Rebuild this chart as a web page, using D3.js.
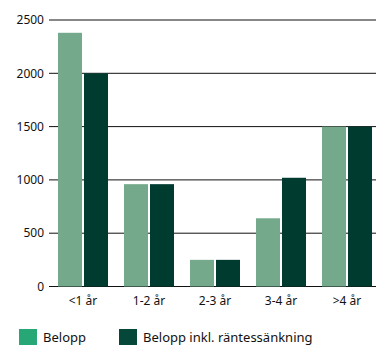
<!DOCTYPE html>
<html>
<head>
<meta charset="utf-8">
<script src="https://cdn.jsdelivr.net/npm/d3@7"></script>
<style>
  html, body { margin: 0; padding: 0; background: #ffffff; }
  svg { display: block; font-family: "Noto Sans", sans-serif; }
</style>
</head>
<body>
<svg id="chart" width="376" height="345"></svg>
<script>
// Maturity buckets and amounts
const categories = ["<1 år", "1-2 år", "2-3 år", "3-4 år", ">4 år"];
const seriesNames = ["Belopp", "Belopp inkl. räntessänkning"];
const belopp = [2380, 960, 250, 640, 1500];
const beloppInkl = [2000, 960, 250, 1020, 1500];
const yTicks = [0, 500, 1000, 1500, 2000, 2500];

const barColors = ["#74aa8b", "#003b30"];
const legendColors = ["#27a676", "#05483a"];

const svg = d3.select("#chart");

const y = d3.scaleLinear().domain([0, 2500]).range([286.5, 20]);

const x0 = d3.scaleBand()
  .domain(categories)
  .range([50, 380])
  .paddingInner(16 / 66)
  .paddingOuter(8 / 66);

const x1 = d3.scaleBand()
  .domain([0, 1])
  .range([0, x0.bandwidth()])
  .paddingInner(2 / 26)
  .paddingOuter(0);

// Gridlines
svg.append("g")
  .selectAll("line")
  .data(yTicks)
  .join("line")
  .attr("x1", 49)
  .attr("x2", 376)
  .attr("y1", d => y(d))
  .attr("y2", d => y(d))
  .attr("stroke", "#111")
  .attr("stroke-width", 1);

// Y axis labels
svg.append("g")
  .selectAll("text")
  .data(yTicks)
  .join("text")
  .attr("x", 44)
  .attr("y", d => y(d))
  .attr("dy", "0.35em")
  .attr("text-anchor", "end")
  .attr("font-size", 12)
  .attr("fill", "#111")
  .text(d => d);

// Bars
const rows = categories.map((c, i) => ({ cat: c, vals: [belopp[i], beloppInkl[i]] }));
const groups = svg.append("g")
  .selectAll("g")
  .data(rows)
  .join("g")
  .attr("transform", d => `translate(${x0(d.cat)},0)`);

groups.selectAll("rect")
  .data(d => d.vals.map((v, k) => ({ k, v })))
  .join("rect")
  .attr("x", d => x1(d.k))
  .attr("width", x1.bandwidth())
  .attr("y", d => y(d.v))
  .attr("height", d => y(0) - y(d.v))
  .attr("fill", d => barColors[d.k]);

// X axis labels
svg.append("g")
  .selectAll("text")
  .data(categories)
  .join("text")
  .attr("x", d => x0(d) + x0.bandwidth() / 2)
  .attr("y", 305)
  .attr("text-anchor", "middle")
  .attr("font-size", 12)
  .attr("fill", "#111")
  .text(d => d);

// Legend
const legendX = [19, 119];
const legend = svg.append("g")
  .selectAll("g")
  .data(seriesNames)
  .join("g")
  .attr("transform", (d, i) => `translate(${legendX[i]},329)`);

legend.append("rect")
  .attr("width", 18)
  .attr("height", 18)
  .attr("fill", (d, i) => legendColors[i]);

legend.append("text")
  .attr("x", 24)
  .attr("y", 12.5)
  .attr("font-size", 13)
  .attr("fill", "#111")
  .text(d => d);
</script>
</body>
</html>
